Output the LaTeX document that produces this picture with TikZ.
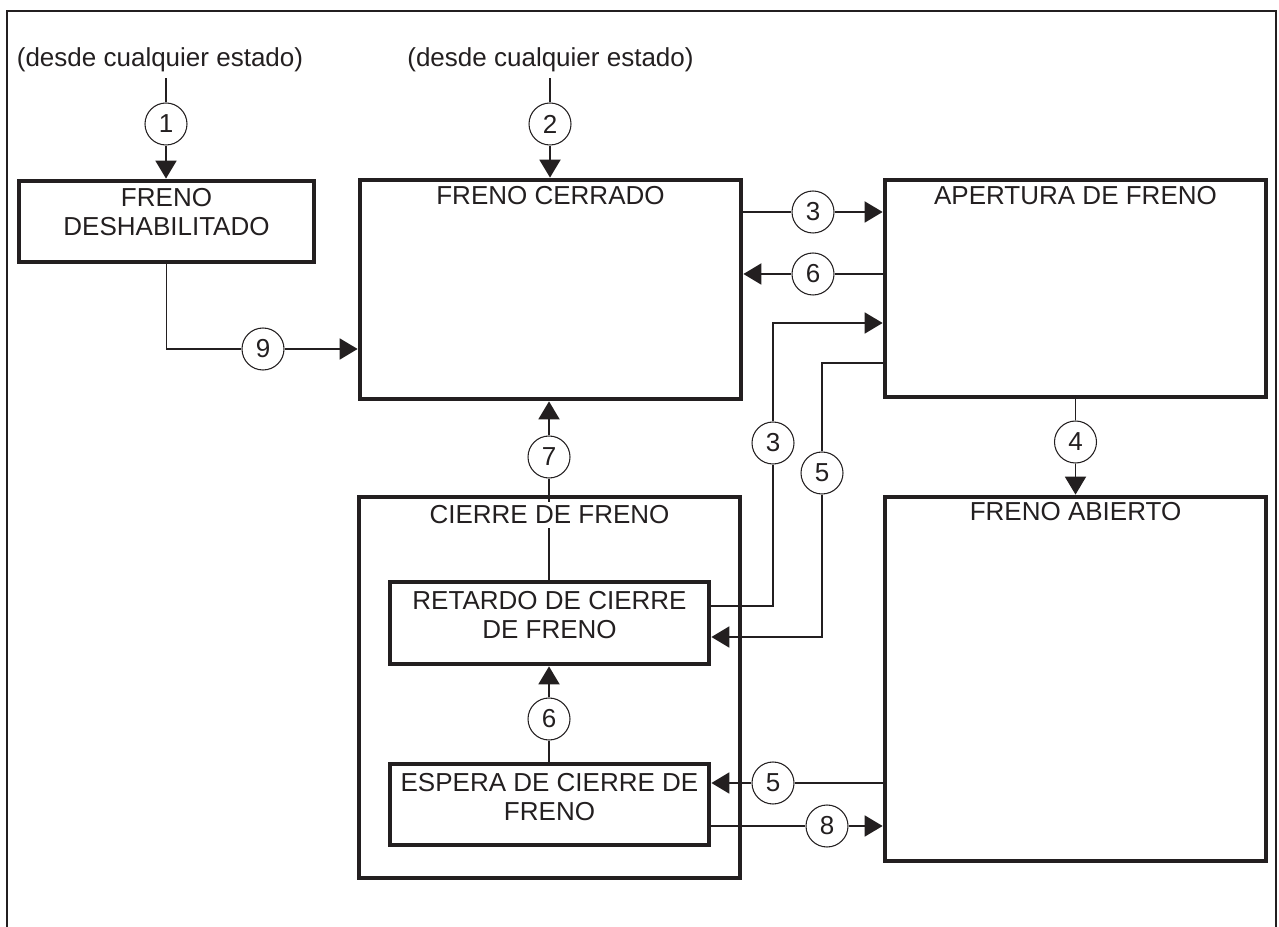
\documentclass[tikz,border=0pt]{standalone}
\usepackage{fontspec}
\setmainfont{Liberation Sans}
\usetikzlibrary{arrows.meta,positioning,calc}
\definecolor{ink}{RGB}{35,31,32}

\begin{document}
\begin{tikzpicture}[
    x=0.2mm, y=-0.2mm,
    every node/.style={font=\fontsize{14.8}{17}\selectfont, text=ink},
    state/.style={draw=ink, line width=2.7pt, rectangle, inner sep=0pt},
    title/.style={inner sep=0pt, align=center},
    num/.style={draw=ink, circle, line width=0.6pt, minimum size=8.4mm, inner sep=0pt, fill=white},
    line/.style={draw=ink, line width=1.1pt},
    arrow/.style={line, -{Triangle[length=3.6mm,width=4.2mm]}}
]
\useasboundingbox (0,0) rectangle (1279,927);

% Outer frame
\draw[ink, line width=1.5pt] (7,927) -- (7,11) -- (1276,11) -- (1276,927);

% States
\node[state, minimum width=59mm, minimum height=16.2mm] (deshab) at (166.5,221.5) {};
\node[state, minimum width=76.2mm, minimum height=43.8mm] (cerrado) at (550.5,289.5) {};
\node[state, minimum width=76.2mm, minimum height=43.4mm] (apertura) at (1075.5,288.5) {};
\node[state, minimum width=76.2mm, minimum height=72.8mm] (abierto) at (1075.5,679) {};
\node[state, minimum width=76.2mm, minimum height=76.2mm] (cierre) at (549.5,687.5) {};
\node[state, minimum width=63.8mm, minimum height=16.4mm] (retardo) at (549.5,623) {};
\node[state, minimum width=63.8mm, minimum height=16.2mm] (espera) at (549.5,804.5) {};

% State texts
\node[title] (deshabtxt) at (166.5,212) {FRENO\\DESHABILITADO};
\node[title] (cerradotxt) at (550.5,196) {FRENO CERRADO};
\node[title] (aperturatxt) at (1075.5,196) {APERTURA DE FRENO};
\node[title] (abiertotxt) at (1075.5,512) {FRENO ABIERTO};
\node[title] (retardotxt) at (549.5,615) {RETARDO DE CIERRE\\DE FRENO};
\node[title] (esperatxt) at (549.5,797) {ESPERA DE CIERRE DE\\FRENO};

% Entry points
\node[anchor=base] (src1) at (160,66.5) {(desde cualquier estado)};
\node[anchor=base] (src2) at (550.5,66.5) {(desde cualquier estado)};

% Transition numbers
\node[num] (c1) at (166,124) {1};
\node[num] (c2) at (550,124) {2};
\node[num] (c3a) at (813,212) {3};
\node[num] (c6a) at (813,274) {6};
\node[num] (c3b) at (773,443) {3};
\node[num] (c5a) at (822,473) {5};
\node[num] (c4) at (1075.5,442) {4};
\node[num] (c7) at (549,457) {7};
\node[num] (c6b) at (549,719) {6};
\node[num] (c5b) at (773,783) {5};
\node[num] (c8) at (827,826) {8};
\node[num] (c9) at (263,349) {9};

% Transitions
\draw[line] (c1 |- src1.south) -- (c1);
\draw[arrow] (c1) -- (c1 |- deshab.north);
\draw[line] (c2 |- src2.south) -- (c2);
\draw[arrow] (c2) -- (c2 |- cerrado.north);
\draw[line] (deshab.south) |- (c9);
\draw[arrow] (c9) -- (c9 -| cerrado.west);
\draw[line] (c3a -| cerrado.east) -- (c3a);
\draw[arrow] (c3a) -- (c3a -| apertura.west);
\draw[line] (c6a -| apertura.west) -- (c6a);
\draw[arrow] (c6a) -- (c6a -| cerrado.east);
\draw[line] ([yshift=3.4mm]retardo.east) -| (c3b);
\draw[arrow] (c3b) |- ([yshift=-6.9mm]apertura.west);
\draw[line] ([yshift=-14.9mm]apertura.west) -| (c5a);
\draw[arrow] (c5a) |- ([yshift=-2.8mm]retardo.east);
\draw[line] (apertura.south) -- (c4);
\draw[arrow] (c4) -- (abierto.north);
\draw[line] (c7 |- retardo.north) -- (c7);
\draw[arrow] (c7) -- (c7 |- cerrado.south);
\draw[line] (c6b |- espera.north) -- (c6b);
\draw[arrow] (c6b) -- (c6b |- retardo.south);
\draw[line] (c5b -| abierto.west) -- (c5b);
\draw[arrow] (c5b) -- (c5b -| espera.east);
\draw[line] (c8 -| espera.east) -- (c8);
\draw[arrow] (c8) -- (c8 -| abierto.west);

% Title of the composite state, over the line of 7
\node[title, fill=white, inner xsep=2pt, inner ysep=2pt] (cierretxt) at (549.5,515) {CIERRE DE FRENO};

\end{tikzpicture}
\end{document}
